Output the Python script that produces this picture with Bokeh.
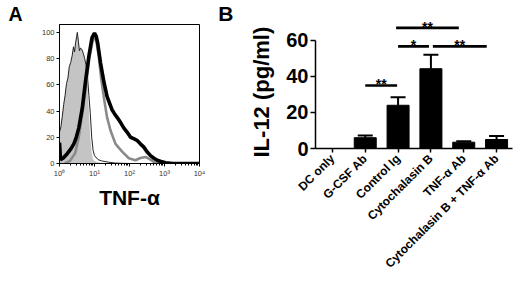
import numpy as np
from math import pi
from bokeh.plotting import figure
from bokeh.layouts import row
from bokeh.models import (Range1d, FixedTicker, Whisker, TeeHead, ColumnDataSource, Title,
                          LinearAxis)
from bokeh.core.properties import value
from bokeh.embed import file_html
from bokeh.resources import INLINE

FONT = "Liberation Sans"

# ---------------- Panel A data (x in decades of fluorescence, y = % of max) --------
iso_x = [0.0, 0.04, 0.08, 0.12, 0.16, 0.2, 0.24, 0.28, 0.32, 0.36, 0.4, 0.43, 0.46, 0.49,
         0.51, 0.54, 0.57, 0.6, 0.64, 0.68, 0.72, 0.76, 0.8, 0.84, 0.88, 0.92, 0.96, 1.0, 1.1, 1.3]
iso_y = [24, 28, 36, 45, 52, 61, 65, 74, 77, 82, 89, 85, 92, 97,
         100, 93, 86, 88, 87, 84, 80, 73, 59, 39, 20, 8, 3, 2, 1, 0]

thin_x = [0.0, 0.0, 0.04, 0.08, 0.12, 0.16, 0.2, 0.24, 0.28, 0.32, 0.36, 0.4, 0.43, 0.46, 0.49,
          0.51, 0.54, 0.57, 0.6, 0.64, 0.68, 0.72, 0.76, 0.8, 0.84, 0.88, 0.92, 0.96, 1.0,
          1.1, 1.2, 1.4, 1.6, 2.0, 4.0]
thin_y = [0, 24, 28, 36, 45, 52, 61, 65, 74, 77, 82, 89, 85, 92, 97,
          100, 93, 86, 88, 87, 84, 80, 75, 66, 52, 38, 20, 10, 6,
          3, 2, 1, 0.3, 0, 0]

gray_x = [0.15, 0.3, 0.45, 0.55, 0.65, 0.75, 0.85, 0.95, 1.0, 1.06, 1.12, 1.19, 1.27, 1.36,
          1.46, 1.6, 1.79, 1.98, 2.17, 2.31, 2.46, 2.6, 2.74, 3.0, 4.0]
gray_y = [0, 2, 8, 20, 38, 58, 80, 94, 97, 92, 82, 65, 50, 35,
          25, 15, 9, 4, 2.5, 4.2, 5, 3, 0.5, 0, 0]

blk_x = [0.0, 0.03, 0.1, 0.22, 0.32, 0.41, 0.48, 0.55, 0.65, 0.74, 0.84, 0.93, 1.0, 1.05,
         1.09, 1.17, 1.27, 1.36, 1.43, 1.5, 1.57, 1.65, 1.75, 1.84, 1.93, 2.03, 2.12, 2.22,
         2.31, 2.41, 2.5, 2.6, 2.7, 2.79, 2.9, 3.03, 3.24, 4.0]
blk_y = [16, 3, 4, 7.5, 11, 15, 20, 27, 42, 62, 82, 96, 99.5, 97,
         92, 77, 62, 51, 46, 41, 38, 35, 31, 27, 24, 20, 19, 17.5,
         15, 12.5, 9, 6, 4, 2.5, 1.5, 0.5, 0, 0]

decade_ticks = [0, 1, 2, 3, 4]
decade_labels = ["10\u2070", "10\u00b9", "10\u00b2", "10\u00b3", "10\u2074"]
pct_ticks = [0, 20, 40, 60, 80, 100]

# ---------------- Panel B data ----------------
categories = ["DC only", "G-CSF Ab", "Control Ig", "Cytochalasin B",
              "TNF-\u03b1 Ab", "Cytochalasin B + TNF-\u03b1 Ab"]
il12_mean = [0, 6, 24, 44.3, 3.5, 5]
il12_err = [0, 1.2, 4.5, 7.7, 0.5, 2]
il12_ticks = [0, 20, 40, 60]

# significance brackets (category positions, height in pg/ml, label)
sig_start = [1.0, 1.94, 2.0, 3.06]
sig_end = [1.97, 3.85, 2.94, 4.7]
sig_height = [35, 67, 56.7, 56.7]
sig_label = ["**", "**", "*", "**"]

# ================= Panel A =================
pa = figure(width=215, height=281, x_range=Range1d(0, 4), y_range=Range1d(0, 106),
            output_backend="svg", toolbar_location=None, frame_align=False,
            title=Title(text="A", align="left", offset=-51, standoff=0, vertical_align="bottom",
                        text_font=FONT, text_font_size="19.5px", text_font_style="bold",
                        text_color="black"),
            min_border_left=59, min_border_right=16, min_border_top=22, min_border_bottom=118)
pa.xgrid.visible = False
pa.ygrid.visible = False
pa.outline_line_color = "black"
pa.outline_line_width = 1
pa.background_fill_color = "white"
pa.border_fill_color = "white"

pa.varea(x=iso_x, y1=0, y2=iso_y, fill_color="#c4c4c4")
pa.line(thin_x, thin_y, line_color="#222222", line_width=1)
pa.line(gray_x, gray_y, line_color="#8a8a8a", line_width=2.6)
pa.line(blk_x, blk_y, line_color="black", line_width=3.6)

minor = [d + np.log10(k) for d in range(4) for k in range(2, 10)]
pa.xaxis.ticker = FixedTicker(ticks=decade_ticks, minor_ticks=minor)
pa.xaxis.major_label_overrides = {t: l for t, l in zip(decade_ticks, decade_labels)}
pa.yaxis.ticker = FixedTicker(ticks=pct_ticks)
for ax in (pa.xaxis, pa.yaxis):
    ax.major_label_text_font = FONT
    ax.major_label_text_font_size = "7.5px"
    ax.major_label_text_color = "#333333"
    ax.major_tick_out = 3
    ax.major_tick_in = 0
    ax.minor_tick_out = 2
    ax.minor_tick_in = 0
    ax.major_label_standoff = 2
    ax.axis_line_color = "black"
pa.yaxis.minor_tick_line_color = None
pa.xaxis.axis_label = "TNF-\u03b1"
pa.xaxis.axis_label_text_font = FONT
pa.xaxis.axis_label_text_font_size = "21px"
pa.xaxis.axis_label_text_font_style = "bold"
pa.xaxis.axis_label_text_color = "black"
pa.xaxis.axis_label_standoff = 5

# ================= Panel B =================
idx = list(range(len(categories)))
pb = figure(width=305, height=281, x_range=Range1d(-0.515, 5.485), y_range=Range1d(0, 79.4),
            output_backend="svg", toolbar_location=None, title=None, frame_align=False,
            min_border_left=99, min_border_right=8, min_border_top=5, min_border_bottom=133)
pb.xgrid.visible = False
pb.ygrid.visible = False
pb.outline_line_color = None

pb.vbar(x=idx, top=il12_mean, width=0.67, fill_color="black", line_color="black")

wx = [i for i, e in zip(idx, il12_err) if e > 0]
wl = [m for m, e in zip(il12_mean, il12_err) if e > 0]
wu = [m + e for m, e in zip(il12_mean, il12_err) if e > 0]
wsrc = ColumnDataSource(dict(x=wx, lower=wl, upper=wu))
pb.add_layout(Whisker(source=wsrc, base="x", lower="lower", upper="upper",
                      line_width=2, line_color="black", lower_head=None,
                      upper_head=TeeHead(size=15, line_width=2, line_color="black")))

pb.segment(x0=sig_start, x1=sig_end, y0=sig_height, y1=sig_height,
           line_width=2.6, line_color="black")
sig_mid = [(a + b) / 2 for a, b in zip(sig_start, sig_end)]
pb.text(x=sig_mid, y=sig_height, text=sig_label, text_align="center",
        text_baseline="alphabetic", text_font=value(FONT), text_font_size="14px",
        text_font_style="bold", y_offset=-1)

pb.xaxis.ticker = FixedTicker(ticks=idx)
pb.xaxis.major_label_overrides = {i: c for i, c in zip(idx, categories)}
pb.xaxis.major_label_orientation = pi / 4
pb.xaxis.major_label_text_font = FONT
pb.xaxis.major_label_text_font_size = "12px"
pb.xaxis.major_label_text_font_style = "bold"
pb.xaxis.major_label_text_color = "black"
pb.xaxis.major_tick_out = 4
pb.xaxis.major_tick_in = 0
pb.xaxis.minor_tick_line_color = None
pb.xaxis.major_label_standoff = 4
pb.xaxis.axis_line_width = 1.5
pb.xaxis.major_tick_line_width = 1.5

pb.yaxis.ticker = FixedTicker(ticks=il12_ticks)
pb.yaxis.bounds = (0, 60)
pb.yaxis.major_label_text_font = FONT
pb.yaxis.major_label_text_font_size = "20px"
pb.yaxis.major_label_text_font_style = "bold"
pb.yaxis.major_label_text_color = "black"
pb.yaxis.major_tick_out = 5
pb.yaxis.major_tick_in = 0
pb.yaxis.minor_tick_line_color = None
pb.yaxis.major_label_standoff = 2
pb.yaxis.axis_line_width = 1.5
pb.yaxis.major_tick_line_width = 1.5

pb.add_layout(Title(text="IL-12 (pg/ml)", align="left", offset=-9, vertical_align="bottom",
                    standoff=20, text_font=FONT, text_font_size="22px",
                    text_font_style="bold", text_color="black"), "left")

# panel letter "B": an outer left axis carrying a single label near the top of the panel
letter_pos = 74.7
letter_axis = LinearAxis(ticker=FixedTicker(ticks=[letter_pos], minor_ticks=[]),
                         major_label_overrides={letter_pos: "B"},
                         axis_line_color=None, major_tick_line_color=None,
                         minor_tick_line_color=None, major_tick_out=0, major_tick_in=0,
                         minor_tick_out=0, minor_tick_in=0, major_label_standoff=3,
                         major_label_text_font=FONT, major_label_text_font_size="21px",
                         major_label_text_font_style="bold", major_label_text_color="black")
pb.add_layout(letter_axis, "left")

layout = row(pa, pb)
open("out.html", "w").write(file_html(layout, INLINE))
